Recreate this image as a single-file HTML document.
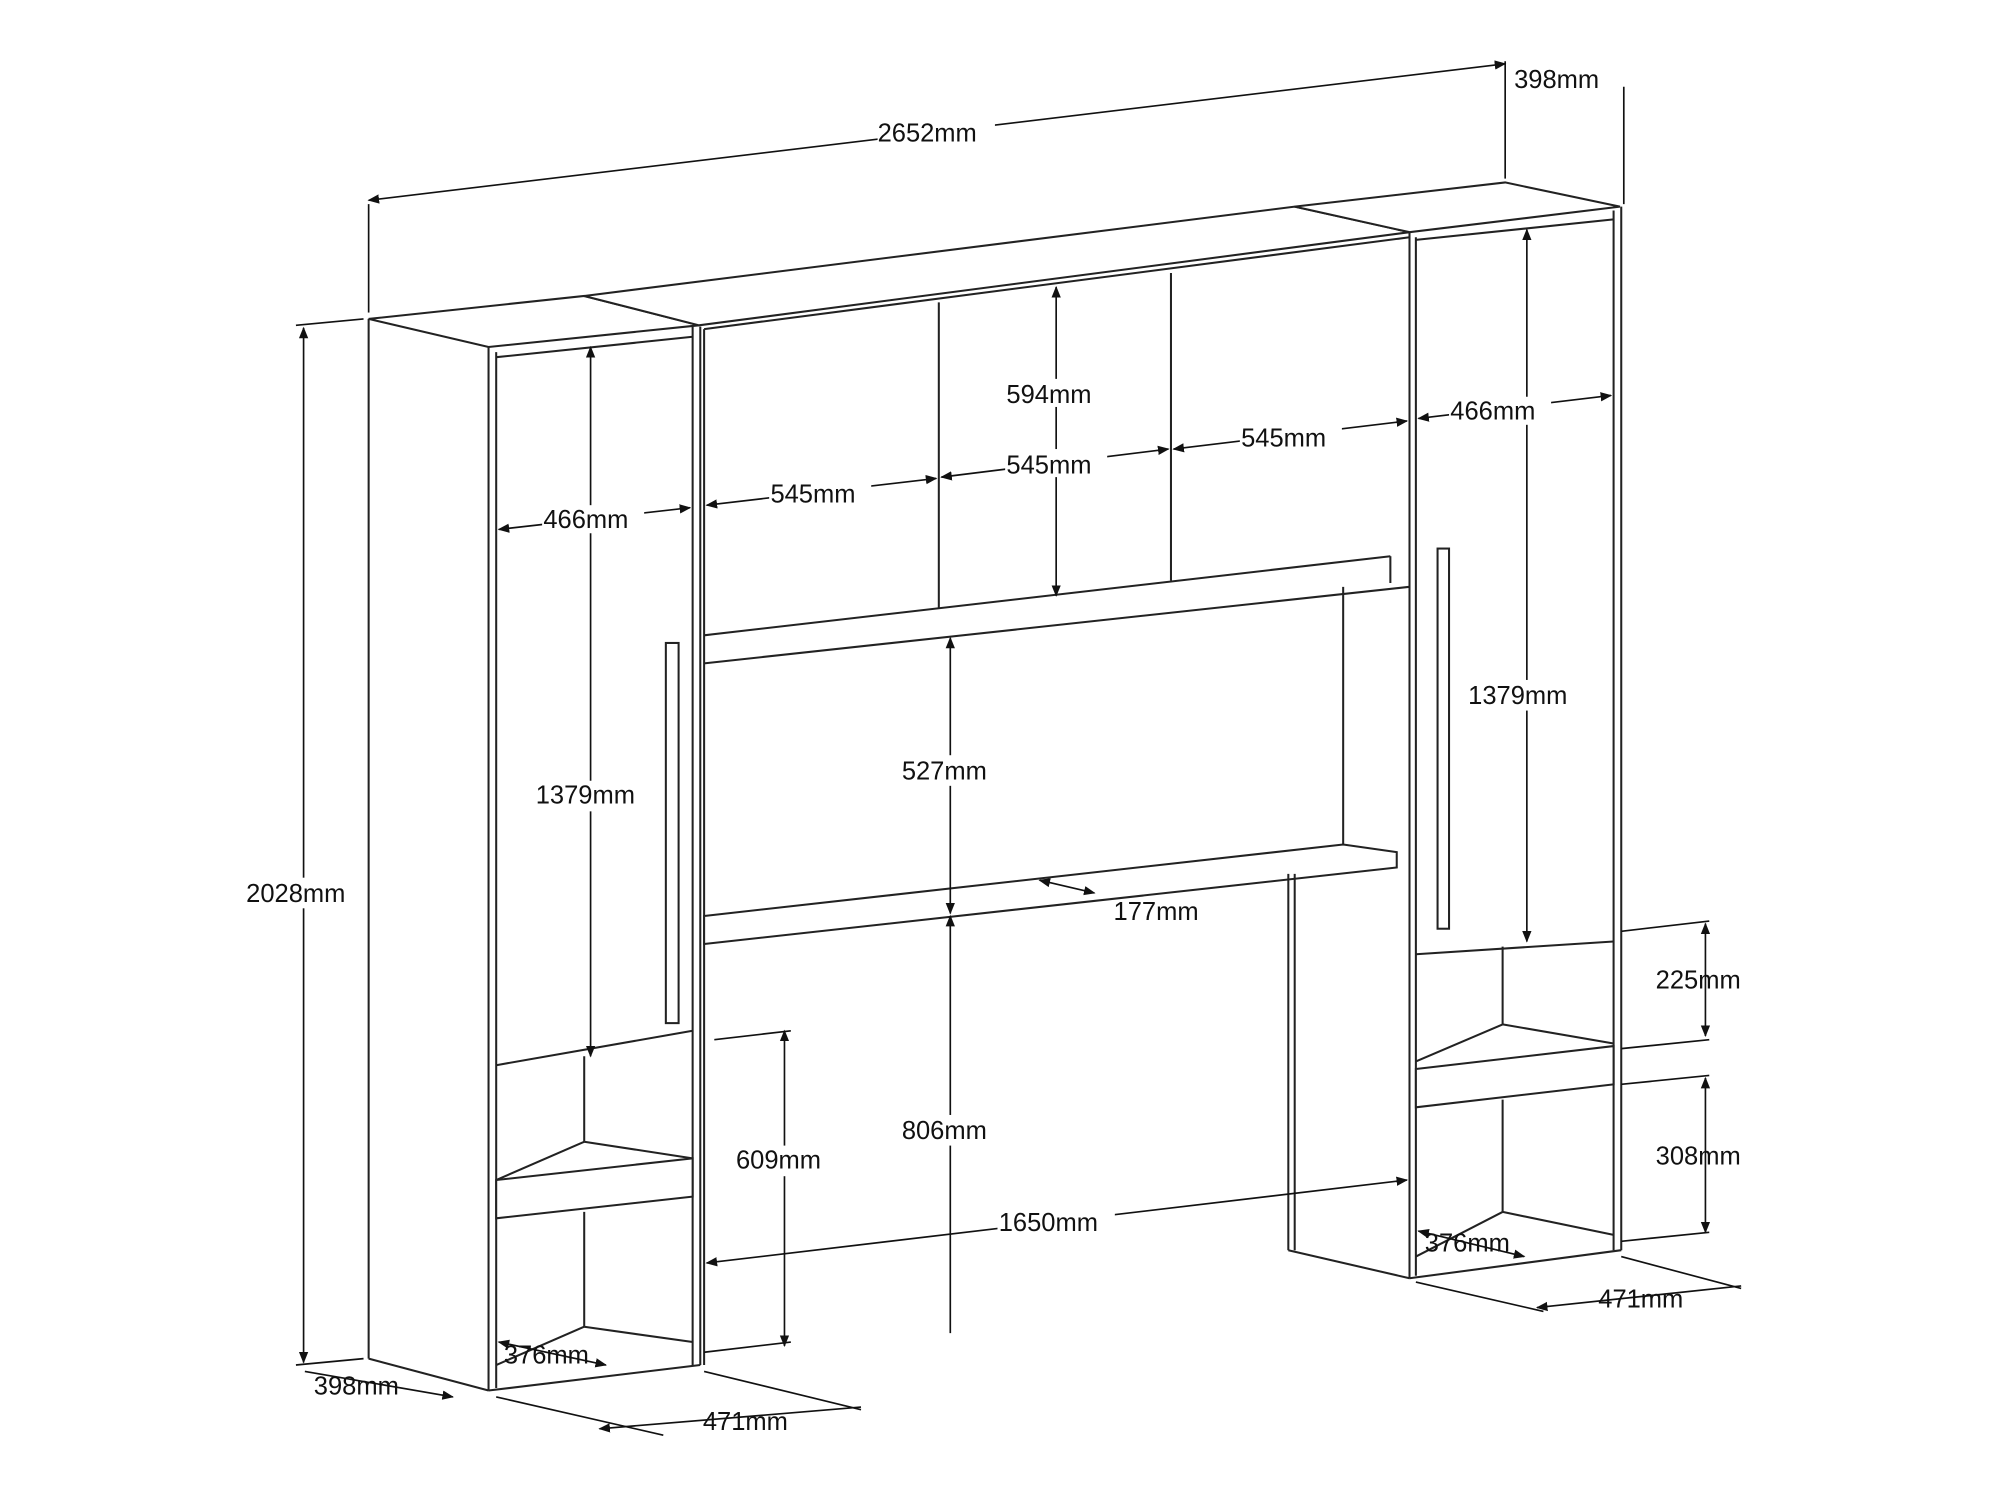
<!DOCTYPE html>
<html><head><meta charset="utf-8"><style>
html,body{margin:0;padding:0;background:#fff;}
svg{display:block;}
text{font-family:"Liberation Sans",sans-serif;font-size:20px;fill:#111;}
</style></head><body>
<svg width="2002" height="1501" viewBox="0 0 1569.5 1176.6" preserveAspectRatio="none" xmlns="http://www.w3.org/2000/svg">
<defs>
<marker id="a" viewBox="0 0 10 10" refX="9" refY="5" markerWidth="7" markerHeight="7" orient="auto-start-reverse"><path d="M0,1 L10,5 L0,9 z" fill="#111"/></marker>
</defs>
<g stroke="#222" stroke-width="1.6" fill="none">
<polygon points="289,250 458,232 548,255 383,272" fill="#fff"/>
<line x1="289" y1="250" x2="289" y2="1065"/>
<line x1="383" y1="272" x2="383" y2="1090"/>
<line x1="389" y1="276" x2="389" y2="1088"/>
<line x1="543" y1="256" x2="543" y2="1070"/>
<line x1="549" y1="256" x2="549" y2="1070"/>
<line x1="289" y1="1065" x2="383" y2="1090"/>
<line x1="383" y1="1090" x2="549" y2="1070"/>
<line x1="389" y1="280" x2="543" y2="264"/>
<line x1="389" y1="835" x2="543" y2="808"/>
<line x1="458" y1="828" x2="458" y2="895"/>
<polygon points="389,925 543,908 543,938 389,955" fill="#fff"/>
<line x1="389" y1="925" x2="458" y2="895"/><line x1="458" y1="895" x2="543" y2="908"/>
<line x1="458" y1="950" x2="458" y2="1040"/>
<line x1="389" y1="1070" x2="458" y2="1040"/><line x1="458" y1="1040" x2="543" y2="1052"/>
<rect x="522" y="504" width="10" height="298" fill="#fff"/>
<polygon points="458,232 1015,162 1105,182 548,255" fill="#fff"/>
<line x1="552" y1="258" x2="1105" y2="186"/>
<line x1="552" y1="258" x2="552" y2="1070"/>
<line x1="736" y1="237" x2="736" y2="477"/>
<line x1="918" y1="214" x2="918" y2="455"/>
<line x1="552" y1="498" x2="1090" y2="436"/>
<line x1="1090" y1="436" x2="1090" y2="457"/>
<line x1="552" y1="520" x2="1105" y2="460"/>
<line x1="1053" y1="460" x2="1053" y2="662"/>
<polygon points="552,718 1053,662 1095,668 1095,680 552,740" fill="#fff"/>
<line x1="1010" y1="685" x2="1010" y2="980"/>
<line x1="1015" y1="685" x2="1015" y2="980"/>
<line x1="1010" y1="980" x2="1105" y2="1002"/>
<polygon points="1015,162 1180,143 1270,162 1105,182" fill="#fff"/>
<line x1="1105" y1="182" x2="1105" y2="1002"/>
<line x1="1110" y1="186" x2="1110" y2="1000"/>
<line x1="1265" y1="165" x2="1265" y2="980"/>
<line x1="1271" y1="162" x2="1271" y2="980"/>
<line x1="1110" y1="188" x2="1265" y2="172"/>
<line x1="1105" y1="1002" x2="1271" y2="980"/>
<line x1="1110" y1="748" x2="1265" y2="738"/>
<line x1="1178" y1="742" x2="1178" y2="803"/>
<polygon points="1110,838 1265,820 1265,850 1110,868" fill="#fff"/>
<line x1="1110" y1="832" x2="1178" y2="803"/><line x1="1178" y1="803" x2="1265" y2="818"/>
<line x1="1178" y1="862" x2="1178" y2="950"/>
<line x1="1110" y1="985" x2="1178" y2="950"/><line x1="1178" y1="950" x2="1265" y2="968"/>
<rect x="1127" y="430" width="9" height="298" fill="#fff"/>
</g>
<g stroke="#111" stroke-width="1.3" fill="none">
<line x1="289" y1="160" x2="289" y2="245"/>
<line x1="1180" y1="48" x2="1180" y2="140"/>
<line x1="1273" y1="68" x2="1273" y2="160"/>
<line x1="232" y1="255" x2="285" y2="250"/>
<line x1="232" y1="1070" x2="285" y2="1065"/>
<line x1="389" y1="1095" x2="520" y2="1125"/>
<line x1="552" y1="1075" x2="675" y2="1105"/>
<line x1="1110" y1="1005" x2="1210" y2="1028"/>
<line x1="1271" y1="985" x2="1365" y2="1010"/>
<line x1="552" y1="1060" x2="620" y2="1052"/>
<line x1="560" y1="815" x2="620" y2="808"/>
<line x1="1271" y1="730" x2="1340" y2="722"/>
<line x1="1271" y1="822" x2="1340" y2="815"/>
<line x1="1271" y1="850" x2="1340" y2="843"/>
<line x1="1271" y1="973" x2="1340" y2="966"/>
<line x1="289" y1="157" x2="1180" y2="50" marker-start="url(#a)" marker-end="url(#a)"/>
<line x1="238" y1="257" x2="238" y2="1068" marker-start="url(#a)" marker-end="url(#a)"/>
<line x1="239" y1="1075" x2="355" y2="1095" marker-end="url(#a)"/>
<line x1="470" y1="1120" x2="675" y2="1103" marker-start="url(#a)"/>
<line x1="1205" y1="1025" x2="1365" y2="1008" marker-start="url(#a)"/>
<line x1="391" y1="415" x2="541" y2="398" marker-start="url(#a)" marker-end="url(#a)"/>
<line x1="463" y1="272" x2="463" y2="828" marker-start="url(#a)" marker-end="url(#a)"/>
<line x1="615" y1="808" x2="615" y2="1055" marker-start="url(#a)" marker-end="url(#a)"/>
<line x1="554" y1="396" x2="734" y2="375" marker-start="url(#a)" marker-end="url(#a)"/>
<line x1="738" y1="374" x2="916" y2="352" marker-start="url(#a)" marker-end="url(#a)"/>
<line x1="920" y1="352" x2="1103" y2="330" marker-start="url(#a)" marker-end="url(#a)"/>
<line x1="1112" y1="328" x2="1263" y2="310" marker-start="url(#a)" marker-end="url(#a)"/>
<line x1="828" y1="225" x2="828" y2="467" marker-start="url(#a)" marker-end="url(#a)"/>
<line x1="745" y1="500" x2="745" y2="716" marker-start="url(#a)" marker-end="url(#a)"/>
<line x1="745" y1="718" x2="745" y2="1045" marker-start="url(#a)"/>
<line x1="815" y1="690" x2="858" y2="700" marker-start="url(#a)" marker-end="url(#a)"/>
<line x1="554" y1="990" x2="1103" y2="925" marker-start="url(#a)" marker-end="url(#a)"/>
<line x1="1197" y1="180" x2="1197" y2="738" marker-start="url(#a)" marker-end="url(#a)"/>
<line x1="1337" y1="724" x2="1337" y2="812" marker-start="url(#a)" marker-end="url(#a)"/>
<line x1="1337" y1="845" x2="1337" y2="966" marker-start="url(#a)" marker-end="url(#a)"/>
<line x1="391" y1="1052" x2="475" y2="1070" marker-start="url(#a)" marker-end="url(#a)"/>
<line x1="1112" y1="965" x2="1195" y2="985" marker-start="url(#a)" marker-end="url(#a)"/>
</g>
<g fill="#fff" stroke="none">
<rect x="688" y="90" width="92" height="24"/><rect x="192" y="688" width="94" height="24"/>
<rect x="425" y="396" width="80" height="22"/><rect x="420" y="612" width="90" height="24"/>
<rect x="603" y="375" width="80" height="22"/><rect x="788" y="352" width="80" height="22"/>
<rect x="972" y="331" width="80" height="22"/><rect x="1136" y="311" width="80" height="22"/>
<rect x="788" y="297" width="80" height="22"/><rect x="706" y="592" width="80" height="24"/>
<rect x="706" y="874" width="80" height="24"/><rect x="782" y="946" width="92" height="24"/>
<rect x="1150" y="533" width="92" height="24"/><rect x="576" y="898" width="80" height="24"/>
</g>
<text x="688" y="111">2652mm</text>
<text x="1187" y="69">398mm</text>
<text x="193" y="707">2028mm</text>
<text x="246" y="1093">398mm</text>
<text x="551" y="1121">471mm</text>
<text x="1253" y="1025">471mm</text>
<text x="426" y="414">466mm</text>
<text x="420" y="630">1379mm</text>
<text x="577" y="916">609mm</text>
<text x="395" y="1069">376mm</text>
<text x="604" y="394">545mm</text>
<text x="789" y="371">545mm</text>
<text x="973" y="350">545mm</text>
<text x="1137" y="329">466mm</text>
<text x="789" y="316">594mm</text>
<text x="707" y="611">527mm</text>
<text x="707" y="893">806mm</text>
<text x="873" y="721">177mm</text>
<text x="783" y="965">1650mm</text>
<text x="1151" y="552">1379mm</text>
<text x="1298" y="775">225mm</text>
<text x="1298" y="913">308mm</text>
<text x="1117" y="981">376mm</text>
</svg>
</body></html>
